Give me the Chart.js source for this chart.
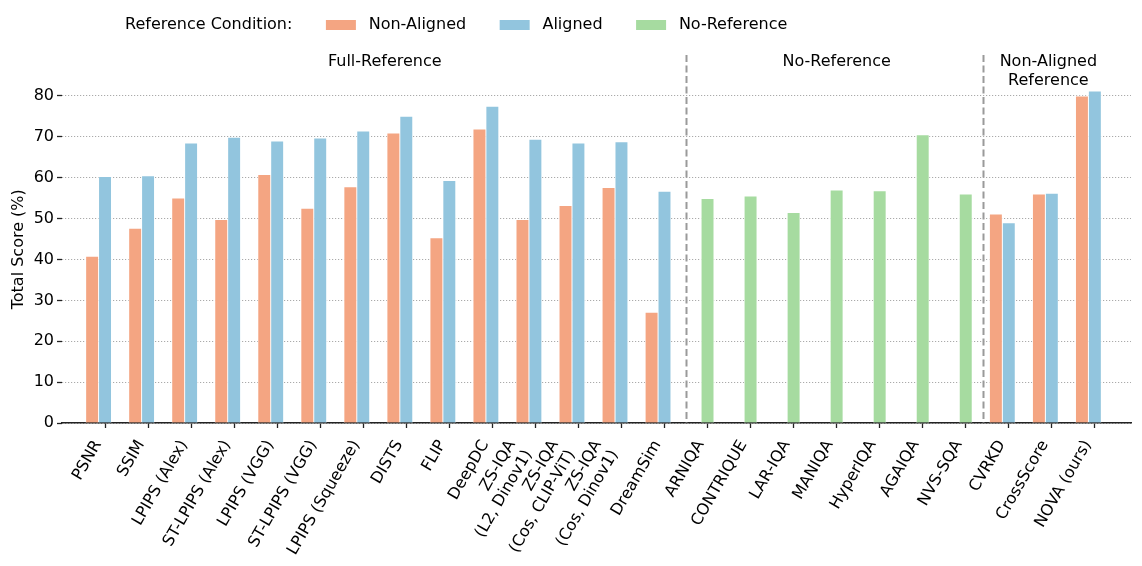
<!DOCTYPE html>
<html>
<head>
<meta charset="utf-8">
<title>Total Score by Metric</title>
<script src="https://cdn.jsdelivr.net/npm/chart.js@4.4.1/dist/chart.umd.min.js"></script>
<style>
    html, body { margin: 0; padding: 0; background: #fff; }
    #wrap { width: 1142px; height: 566px; position: relative; }
</style>
</head>
<body>
<div id="wrap"><canvas id="scores"></canvas></div>
<script>
// Metrics on the x axis
const labels = [
    'PSNR', 'SSIM', 'LPIPS (Alex)', 'ST-LPIPS (Alex)', 'LPIPS (VGG)', 'ST-LPIPS (VGG)',
    'LPIPS (Squeeze)', 'DISTS', 'FLIP', 'DeepDC',
    ['ZS-IQA', '(L2, Dinov1)'], ['ZS-IQA', '(Cos, CLIP-ViT)'], ['ZS-IQA', '(Cos, Dinov1)'],
    'DreamSim', 'ARNIQA', 'CONTRIQUE', 'LAR-IQA', 'MANIQA', 'HyperIQA', 'AGAIQA', 'NVS-SQA',
    'CVRKD', 'CrossScore', 'NOVA (ours)'
];

// Total score (%) per reference condition
const nonAligned = [40.8, 47.6, 55.0, 49.8, 60.8, 52.5, 57.8, 70.9, 45.3, 71.9, 49.8, 53.2, 57.6, 27.1,
    null, null, null, null, null, null, null, 51.1, 56.0, 80.0];
const aligned = [60.3, 60.5, 68.5, 69.9, 69.0, 69.7, 71.4, 75.0, 59.3, 77.5, 69.4, 68.5, 68.8, 56.7,
    null, null, null, null, null, null, null, 49.0, 56.2, 81.2];
const noReference = [null, null, null, null, null, null, null, null, null, null, null, null, null, null,
    54.9, 55.5, 51.5, 57.0, 56.8, 70.5, 56.0, null, null, null];

const yTicks = [0, 10, 20, 30, 40, 50, 60, 70, 80];

// Group headings and the dashed separators between them (x in category units)
const sections = [
    { text: ['Full-Reference'], at: 6.5 },
    { text: ['No-Reference'], at: 17.0 },
    { text: ['Non-Aligned', 'Reference'], at: 21.92 }
];
const dividers = [13.5, 20.39];

const colors = { nonAligned: '#F4A582', aligned: '#92C5DE', noReference: '#A6DBA0' };
const barShift = 0.3;   // non-aligned bar sits one bar width left of the tick
const xMin = -1.0, xMax = 23.84;

function points(values, shift) {
    var out = [];
    values.forEach(function(v, i) {
        if (v !== null) out.push({ x: i + shift, y: v });
    });
    return out;
}

function isMulti(i) { return Array.isArray(labels[i]); }

Chart.defaults.font.family = '"DejaVu Sans", sans-serif';
Chart.defaults.font.size = 16;
Chart.defaults.color = '#000';

// Legend row, section titles and separators
const decor = {
    id: 'decor',
    afterDraw: function(chart) {
        var ctx = chart.ctx;
        var xs = chart.scales.x;
        var ys = chart.scales.y;
        var area = chart.chartArea;
        ctx.save();
        ctx.font = '16px "DejaVu Sans"';
        ctx.fillStyle = '#000';
        ctx.textBaseline = 'middle';

        // legend
        var x = 125, ly = 25;
        ctx.textAlign = 'left';
        ctx.fillText('Reference Condition:', x, ly);
        x += ctx.measureText('Reference Condition:').width;
        chart.data.datasets.forEach(function(ds) {
            x += 33.5;
            ctx.fillStyle = ds.backgroundColor;
            ctx.fillRect(x, ly - 5, 30, 10);
            x += 30 + 12.8;
            ctx.fillStyle = '#000';
            ctx.fillText(ds.label, x, ly);
            x += ctx.measureText(ds.label).width;
        });

        // section titles
        ctx.textAlign = 'center';
        sections.forEach(function(s) {
            s.text.forEach(function(line, k) {
                ctx.fillText(line, xs.getPixelForValue(s.at), area.top - 13.5 + k * 18.5);
            });
        });

        // dashed separators
        ctx.strokeStyle = '#9a9a9a';
        ctx.lineWidth = 2;
        ctx.setLineDash([7, 3.5]);
        dividers.forEach(function(d) {
            var px = Math.round(xs.getPixelForValue(d)) + 0.5;
            ctx.beginPath();
            ctx.moveTo(px, ys.getPixelForValue(90));
            ctx.lineTo(px, area.bottom);
            ctx.stroke();
        });
        ctx.restore();
    }
};

var ctx1 = document.getElementById('scores').getContext('2d');
var scoreChart = new Chart(ctx1, {
    type: 'bar',
    data: {
        datasets: [{
            label: 'Non-Aligned',
            data: points(nonAligned, -barShift),
            backgroundColor: colors.nonAligned
        }, {
            label: 'Aligned',
            data: points(aligned, 0),
            backgroundColor: colors.aligned
        }, {
            label: 'No-Reference',
            data: points(noReference, 0),
            backgroundColor: colors.noReference
        }]
    },
    options: {
        responsive: true,
        maintainAspectRatio: false,
        animation: false,
        datasets: {
            bar: {
                grouped: false,
                barThickness: 12.9,
                borderWidth: 0.8,
                borderColor: 'rgba(255,255,255,0.85)',
                borderSkipped: 'bottom'
            }
        },
        layout: { padding: { top: 75.5, right: 11, left: 0, bottom: 0 } },
        plugins: {
            legend: { display: false },
            tooltip: { enabled: false }
        },
        scales: {
            // main axis: spine, tick marks, single-line labels
            x: {
                type: 'linear',
                offset: false,
                min: xMin,
                max: xMax,
                afterBuildTicks: function(axis) {
                    axis.ticks = labels.map(function(l, i) { return { value: i }; });
                },
                afterFit: function(axis) { axis.height = 143; },
                ticks: {
                    autoSkip: false,
                    minRotation: 60,
                    maxRotation: 60,
                    padding: 9,
                    labelOffset: -7,
                    color: '#000',
                    callback: function(v) { return isMulti(v) ? '' : labels[v]; }
                },
                grid: {
                    offset: false,
                    drawOnChartArea: false,
                    drawTicks: true,
                    tickLength: 5,
                    tickWidth: 1.3,
                    tickColor: '#222'
                },
                border: { display: true, color: '#222', width: 1.4 }
            },
            // helper axis on y = 0 for the two-line labels (block shifted left)
            x2: {
                type: 'linear',
                axis: 'x',
                position: { y: 0 },
                offset: false,
                min: xMin,
                max: xMax,
                afterBuildTicks: function(axis) {
                    axis.ticks = [];
                    labels.forEach(function(l, i) { if (isMulti(i)) axis.ticks.push({ value: i }); });
                },
                ticks: {
                    autoSkip: false,
                    minRotation: 60,
                    maxRotation: 60,
                    padding: 14,
                    labelOffset: -23.5,
                    color: '#000',
                    callback: function(v) { return labels[v]; }
                },
                grid: { display: false, drawTicks: false },
                border: { display: false }
            },
            y: {
                min: 0,
                max: 85,
                afterBuildTicks: function(axis) {
                    axis.ticks = yTicks.map(function(v) { return { value: v }; });
                },
                afterFit: function(axis) { axis.width = 62; },
                ticks: { color: '#000', padding: 3 },
                title: {
                    display: true,
                    text: 'Total Score (%)',
                    color: '#000',
                    font: { size: 16 },
                    padding: { top: 9, bottom: 0 }
                },
                grid: {
                    color: '#aaaaaa',
                    lineWidth: 1,
                    tickLength: 5,
                    tickWidth: 1.3,
                    tickColor: '#222'
                },
                border: { display: false, dash: [1.2, 1.8] }
            }
        }
    },
    plugins: [decor]
});
</script>
</body>
</html>
